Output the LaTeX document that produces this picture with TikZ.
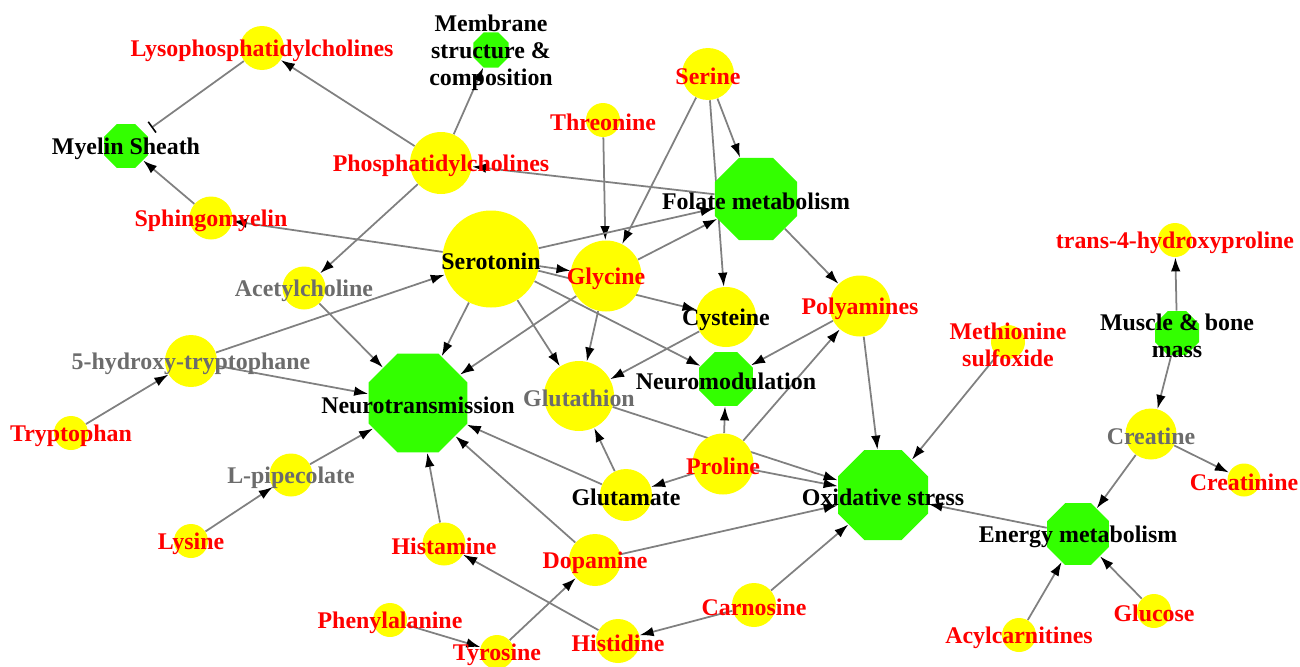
\documentclass[tikz,border=0pt]{standalone}
\usepackage{fontspec}
\setmainfont{Liberation Serif}
\usetikzlibrary{shapes.geometric, arrows.meta, backgrounds}
\definecolor{metyellow}{RGB}{255,255,0}
\definecolor{procgreen}{RGB}{51,255,0}
\definecolor{linkgray}{RGB}{128,128,128}
\definecolor{derivgray}{RGB}{108,108,108}
\tikzset{
  met/.style={circle, fill=metyellow, inner sep=0pt, minimum size=#1*0.02cm},
  proc/.style={regular polygon, regular polygon sides=8, fill=procgreen, inner sep=0pt, minimum size=#1*0.02cm},
  lbl/.style 2 args={label={[text=#1, yshift=-0.05cm]center:#2}},
  every label/.style={font=\fontsize{13.6}{15.4}\selectfont\bfseries, inner sep=0pt, align=center},
  link/.style={draw=linkgray, line width=1pt, -{Latex[black,length=8pt,width=5.4pt]}},
  inhibit/.style={draw=linkgray, line width=1pt, -{Bar[black,width=7.5pt,line width=0.9pt]}, shorten >=5pt}
}
\begin{document}
\begin{tikzpicture}[x=0.02cm, y=-0.02cm]
  \useasboundingbox (0,0) rectangle (1300,666);
  % processes
  \node[proc=47.6, lbl={black}{Myelin Sheath}] (myel) at (126,146) {};
  \node[proc=38, lbl={black}{Membrane\\structure \&\\composition}] (memb) at (491,50) {};
  \node[proc=89, lbl={black}{Folate metabolism}] (fol) at (756,199) {};
  \node[proc=107, lbl={black}{Neurotransmission}] (ntr) at (418,403) {};
  \node[proc=58.4, lbl={black}{Neuromodulation}] (nmod) at (726,379) {};
  \node[proc=97.4, lbl={black}{Oxidative stress}] (oxs) at (883,495) {};
  \node[proc=67, lbl={black}{Energy metabolism}] (enm) at (1078,534) {};
  \node[proc=47.6, lbl={black}{Muscle \& bone\\mass}] (musc) at (1177,333) {};
  % metabolites
  \node[met=44, lbl={red}{Lysophosphatidylcholines}] (lyso) at (262,48) {};
  \node[met=62, lbl={red}{Phosphatidylcholines}] (pc) at (441,163) {};
  \node[met=43, lbl={red}{Sphingomyelin}] (sm) at (211,218) {};
  \node[met=34, lbl={red}{Threonine}] (thr) at (603,120) {};
  \node[met=52, lbl={red}{Serine}] (ser) at (708,74) {};
  \node[met=97, lbl={black}{Serotonin}] (sero) at (491,259) {};
  \node[met=71, lbl={red}{Glycine}] (gly) at (606,276) {};
  \node[met=60, lbl={black}{Cysteine}] (cys) at (726,317) {};
  \node[met=61, lbl={red}{Polyamines}] (poly) at (860,306) {};
  \node[met=43, lbl={derivgray}{Acetylcholine}] (ach) at (304,288) {};
  \node[met=52, lbl={derivgray}{5-hydroxy-tryptophane}] (htp) at (191,361) {};
  \node[met=34, lbl={red}{Tryptophan}] (trp) at (71,433) {};
  \node[met=43, lbl={derivgray}{L-pipecolate}] (pip) at (291,475) {};
  \node[met=34, lbl={red}{Lysine}] (lys) at (191,541) {};
  \node[met=70, lbl={derivgray}{Glutathion}] (gsh) at (579,396) {};
  \node[met=52, lbl={black}{Glutamate}] (glu) at (626,495) {};
  \node[met=61, lbl={red}{Proline}] (pro) at (723,464) {};
  \node[met=43, lbl={red}{Histamine}] (hist) at (444,544) {};
  \node[met=52, lbl={red}{Dopamine}] (dopa) at (595,560) {};
  \node[met=34, lbl={red}{Phenylalanine}] (phe) at (390,620) {};
  \node[met=34, lbl={red}{Tyrosine}] (tyr) at (497,652) {};
  \node[met=44, lbl={red}{Histidine}] (hisd) at (618,641) {};
  \node[met=44, lbl={red}{Carnosine}] (carn) at (754,605) {};
  \node[met=34, lbl={red}{Methionine\\sulfoxide}] (mso) at (1008,342) {};
  \node[met=34, lbl={red}{trans-4-hydroxyproline}] (hyp) at (1175,240) {};
  \node[met=51, lbl={derivgray}{Creatine}] (crea) at (1151,434) {};
  \node[met=33, lbl={red}{Creatinine}] (crn) at (1244,480) {};
  \node[met=34, lbl={red}{Glucose}] (glc) at (1154,611) {};
  \node[met=34, lbl={red}{Acylcarnitines}] (acyl) at (1019,635) {};
  % links
  \begin{pgfonlayer}{background}
    \foreach \a/\b in {pc/lyso, pc/memb, pc/ach, fol/pc, sm/myel, sero/sm,
        ser/fol, ser/gly, ser/cys, thr/gly, sero/fol, gly/fol, fol/poly,
        sero/gly, sero/cys, sero/nmod, sero/ntr, sero/gsh, gly/ntr, gly/gsh,
        cys/gsh, poly/nmod, pro/poly, poly/oxs, pro/nmod, gsh/oxs, pro/oxs,
        pro/glu, glu/gsh, glu/ntr, dopa/ntr, dopa/oxs, hist/ntr, hisd/hist,
        tyr/dopa, phe/tyr, carn/hisd, carn/oxs, mso/oxs, enm/oxs, crea/enm,
        crea/crn, musc/crea, musc/hyp, acyl/enm, glc/enm, ach/ntr, htp/sero,
        htp/ntr, trp/htp, lys/pip, pip/ntr}
      \draw[link] (\a) -- (\b);
    \draw[inhibit] (lyso) -- (myel);
  \end{pgfonlayer}
\end{tikzpicture}
\end{document}
